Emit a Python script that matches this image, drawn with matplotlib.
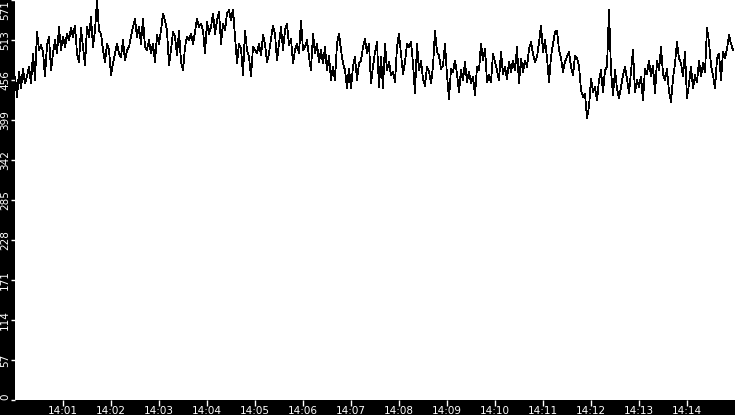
import numpy as np
import pandas as pd
import matplotlib
matplotlib.use('Agg')
import matplotlib.pyplot as plt
import matplotlib.dates as mdates

# readings every 2.5 s starting 14:00:00, six blocks of 2.5 minutes
seg1 = [462, 433, 469, 445, 473, 452, 462, 476, 452, 495, 457, 526, 500, 507, 497, 462, 507, 519, 471, 495,
        514, 495, 533, 500, 519, 504, 523, 514, 531, 519, 535, 495, 483, 531, 504, 478, 533, 519, 547, 504,
        528, 571, 528, 523, 500, 483, 509, 500, 464, 481, 495, 509, 495, 490, 514, 485, 500, 504, 519, 533]
seg2 = [545, 519, 533, 509, 545, 504, 500, 514, 495, 509, 483, 521, 509, 528, 552, 542, 528, 478, 500, 526,
        519, 492, 528, 483, 471, 504, 519, 514, 523, 509, 526, 545, 533, 538, 528, 495, 540, 523, 533, 552,
        523, 542, 554, 509, 538, 528, 552, 557, 542, 558, 519, 481, 509, 502, 464, 528, 500, 490, 462, 504]
seg3 = [500, 495, 509, 492, 521, 509, 483, 495, 516, 535, 523, 485, 509, 533, 500, 528, 538, 507, 516, 481,
        500, 509, 495, 542, 500, 504, 514, 490, 471, 523, 495, 509, 483, 500, 481, 504, 471, 492, 457, 476,
        457, 509, 523, 500, 481, 471, 445, 473, 445, 476, 490, 457, 481, 485, 504, 516, 495, 509, 452, 476]
seg4 = [497, 511, 447, 490, 445, 509, 471, 483, 464, 469, 454, 504, 523, 495, 466, 483, 509, 504, 511, 481,
        438, 509, 471, 485, 459, 449, 476, 469, 452, 476, 528, 497, 492, 473, 478, 509, 464, 430, 473, 469,
        485, 466, 440, 471, 457, 483, 454, 469, 452, 462, 435, 476, 471, 509, 485, 502, 454, 464, 454, 495]
seg5 = [483, 471, 457, 497, 466, 476, 459, 483, 469, 485, 471, 504, 452, 488, 469, 485, 476, 502, 511, 495,
        483, 490, 511, 535, 497, 514, 488, 454, 490, 509, 526, 528, 500, 488, 469, 483, 490, 497, 476, 464,
        492, 488, 478, 442, 433, 438, 402, 419, 459, 440, 447, 428, 457, 471, 440, 471, 476, 557, 471, 435]
seg6 = [471, 445, 431, 447, 464, 476, 459, 438, 469, 500, 440, 457, 447, 462, 428, 473, 466, 485, 462, 478,
        438, 485, 471, 504, 466, 457, 473, 440, 426, 459, 481, 511, 488, 481, 462, 497, 431, 452, 476, 445,
        464, 454, 485, 462, 481, 469, 531, 511, 478, 464, 445, 488, 495, 457, 497, 488, 502, 521, 509, 500]
values = seg1 + seg2 + seg3 + seg4 + seg5 + seg6

ytick_labels = ['0', '57', '114', '171', '228', '285', '342', '399', '456', '513', '571']
y_max = 571.4

start = pd.Timestamp('2024-01-01 14:00:00')
end = pd.Timestamp('2024-01-01 14:15:00')
times = pd.date_range(start, periods=len(values), freq='2500ms')

fig = plt.figure(figsize=(7.35, 4.15), dpi=100, facecolor='black')
ax = fig.add_axes([15 / 735, 15 / 415, 720 / 735, 400 / 415])
ax.set_facecolor('white')
ax.plot(times, values, color='black', lw=0.55, antialiased=False)

for s in ax.spines.values():
    s.set_visible(False)

ax.set_xlim(start, end)
ax.set_ylim(0, y_max)
ax.xaxis.set_major_locator(mdates.MinuteLocator(byminute=range(1, 15)))
ax.xaxis.set_major_formatter(mdates.DateFormatter('%H:%M'))
ax.set_yticks(np.linspace(0, y_max, len(ytick_labels)))
ax.set_yticklabels(ytick_labels, rotation=90, va='center')
ax.tick_params(colors='white', labelcolor='white', labelsize=7.5, width=1)
ax.tick_params(axis='x', length=4, pad=0)
ax.tick_params(axis='y', length=3, pad=0.5)

labs = ax.get_yticklabels()
labs[0].set_va('bottom')
labs[-1].set_va('top')

fig.savefig('out.png', dpi=100, facecolor='black')
